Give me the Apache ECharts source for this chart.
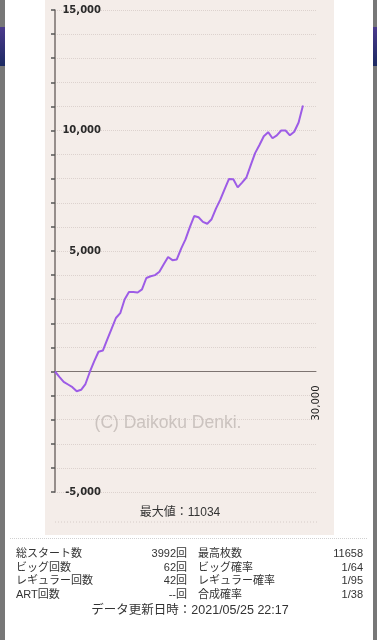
<!DOCTYPE html>
<html><head><meta charset="utf-8">
<script src="https://cdn.jsdelivr.net/npm/echarts@6/dist/echarts.min.js"></script>
<style>html,body{margin:0;padding:0;background:#fff;}#c{width:377px;height:640px;}</style>
</head><body><div id="c"></div>
<script>
// ---- data ----
var gamesX = [0,500,1000,1500,2000,2500,3000,3500,4000,4500,5000,5500,6000,6500,7000,7500,8000,8500,9000,9500,10000,10500,11000,11500,12000,12500,13000,13500,14000,14500,15000,15500,16000,16500,17000,17500,18000,18500,19000,19500,20000,20500,21000,21500,22000,22500,23000,23500,24000,24500,25000,25500,26000,26500,27000,27500,28000,28500];
var coinDiff = [0,-220,-430,-540,-650,-820,-760,-520,-20,420,820,870,1320,1770,2220,2420,2990,3300,3300,3280,3410,3880,3950,4000,4140,4450,4750,4620,4650,5100,5480,5990,6450,6400,6210,6130,6320,6760,7130,7570,7990,7980,7640,7840,8050,8560,9060,9400,9760,9930,9680,9800,10000,10000,9800,9950,10330,11034];
var yTickLabels = [15000, 10000, 5000, -5000];
var xTickLabels = [30000];
var maxLabel = '最大値：11034';
var watermark = '(C) Daikoku Denki.';
var leftLabels = ['総スタート数','ビッグ回数','レギュラー回数','ART回数'];
var leftValues = ['3992回','62回','42回','--回'];
var rightLabels = ['最高枚数','ビッグ確率','レギュラー確率','合成確率'];
var rightValues = ['11658','1/64','1/95','1/38'];
var footer = 'データ更新日時：2021/05/25 22:17';

var seriesData = gamesX.map(function(x,i){return [x, coinDiff[i]];});
function fmt(v){return String(v).replace(/\B(?=(\d{3})+(?!\d))/g, ',');}

var txtFont = 'Liberation Sans, Noto Sans CJK JP, sans-serif';
var graphics = [
  {type:'rect', z:-10, shape:{x:0,y:0,width:5,height:640}, style:{fill:'#777777'}},
  {type:'rect', z:-10, shape:{x:373,y:0,width:4,height:640}, style:{fill:'#777777'}},
  {type:'rect', z:-9, shape:{x:0,y:27,width:5,height:39}, style:{fill:new echarts.graphic.LinearGradient(0,0,0,1,[{offset:0,color:'#4b3a8c'},{offset:1,color:'#1c2a62'}])}},
  {type:'rect', z:-9, shape:{x:373,y:27,width:4,height:39}, style:{fill:new echarts.graphic.LinearGradient(0,0,0,1,[{offset:0,color:'#4b3a8c'},{offset:1,color:'#1c2a62'}])}},
  {type:'rect', z:-10, shape:{x:5,y:0,width:368,height:640}, style:{fill:'#ffffff'}},
  {type:'rect', z:-8, shape:{x:45,y:0,width:289,height:535}, style:{fill:'#f4ede9'}},
  {type:'line', z:-7, shape:{x1:55,y1:522,x2:317,y2:522}, style:{stroke:'#d6ccc8',lineWidth:1,lineDash:[1,2]}},
  {type:'line', z:-7, shape:{x1:10,y1:538.5,x2:368,y2:538.5}, style:{stroke:'#d0d0d0',lineWidth:1,lineDash:[1,1]}},
  {type:'text', z:1, style:{x:168,y:423,text:watermark,fill:'#cbc3bf',font:'17.5px Liberation Sans, sans-serif',textAlign:'center',textVerticalAlign:'middle'}},
  {type:'text', z:5, style:{x:180,y:513,text:maxLabel,fill:'#333',font:'12px '+txtFont,textAlign:'center',textVerticalAlign:'middle'}},
  {type:'text', z:5, style:{x:190,y:611,text:footer,fill:'#333',font:'12.5px '+txtFont,textAlign:'center',textVerticalAlign:'middle'}}
];
for (var i=0;i<leftLabels.length;i++){
  var yy = 554 + 13.5*i;
  graphics.push({type:'text',style:{x:16,y:yy,text:leftLabels[i],fill:'#333',font:'11px '+txtFont,textAlign:'left',textVerticalAlign:'middle'}});
  graphics.push({type:'text',style:{x:187,y:yy,text:leftValues[i],fill:'#333',font:'11px '+txtFont,textAlign:'right',textVerticalAlign:'middle'}});
  graphics.push({type:'text',style:{x:198,y:yy,text:rightLabels[i],fill:'#333',font:'11px '+txtFont,textAlign:'left',textVerticalAlign:'middle'}});
  graphics.push({type:'text',style:{x:363,y:yy,text:rightValues[i],fill:'#333',font:'11px '+txtFont,textAlign:'right',textVerticalAlign:'middle'}});
}

var chart = echarts.init(document.getElementById('c'), null, {renderer:'canvas'});
chart.setOption({
  animation:false,
  backgroundColor:'transparent',
  graphic: graphics,
  grid:{left:55, top:10, width:261, height:482, containLabel:false},
  xAxis:{
    type:'value', min:0, max:30000, interval:30000,
    offset:-120.5,
    axisLine:{show:true, onZero:false, lineStyle:{color:'#7d7471', width:1}},
    axisTick:{show:false},
    splitLine:{show:false},
    axisLabel:{show:true, rotate:90, margin:14, fontSize:10, color:'#222', fontFamily:'DejaVu Sans',
      formatter:function(v){return xTickLabels.indexOf(v)>=0?fmt(v):'';}}
  },
  yAxis:{
    type:'value', min:-5000, max:15000, interval:1000,
    axisLine:{show:true, onZero:false, lineStyle:{color:'#776e6b', width:1.5}},
    axisTick:{show:true, length:4, inside:false, lineStyle:{color:'#555', width:1.5}},
    splitLine:{show:true, lineStyle:{color:'#dcd2ce', type:'dotted', width:1}},
    axisLabel:{show:true, inside:true, align:'right', margin:46, fontSize:10, fontWeight:'bold', color:'#2a2a2a', fontFamily:'DejaVu Sans',
      formatter:function(v){return yTickLabels.indexOf(v)>=0?fmt(v):'';}}
  },
  series:[{
    type:'line', data:seriesData, showSymbol:false, symbol:'none',
    lineStyle:{color:'#9d5ce6', width:2}, z:3
  }]
});
</script></body></html>
